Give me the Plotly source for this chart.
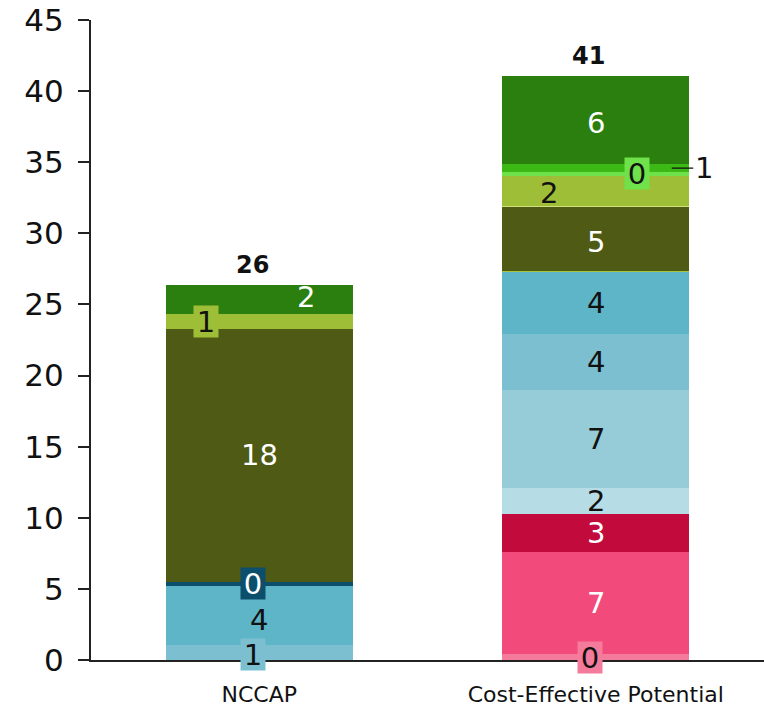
import plotly.graph_objects as go

categories = ["NCCAP", "Cost-Effective Potential"]

series_names = [
    "S01", "S02", "S03", "S04", "S05", "S06", "S07", "S08",
    "S09", "S10", "S11", "S12", "S13", "S14", "S15",
]
# values per series: [NCCAP, Cost-Effective Potential]
v01 = [0.0, 0.42]
v02 = [0.0, 7.18]
v03 = [0.0, 2.67]
v04 = [0.0, 1.83]
v05 = [0.0, 6.89]
v06 = [1.05, 3.94]
v07 = [4.15, 4.36]
v08 = [0.30, 0.0]
v09 = [0.0, 0.07]
v10 = [17.8, 4.53]
v11 = [0.0, 0.06]
v12 = [1.0, 2.08]
v13 = [0.0, 0.28]
v14 = [0.0, 0.56]
v15 = [2.1, 6.20]
values = [v01, v02, v03, v04, v05, v06, v07, v08, v09, v10, v11, v12, v13, v14, v15]

totals = [26, 41]
y_ticks = [0, 5, 10, 15, 20, 25, 30, 35, 40, 45]

# ---- styles ----
colors = [
    "#f57b9c", "#f24b7b", "#c20b3c", "#b6dde6", "#96ccd8", "#7cbfd0", "#5eb5c8",
    "#0b4f6c", "#a8c43a", "#4f5a14", "#cfe07a", "#9fbe37", "#6fe14b", "#3cb914", "#2a7f0f",
]
text_colors = [
    "#111111", "white", "white", "#111111", "#111111", "#111111", "#111111",
    "white", "#111111", "white", "#111111", "#111111", "#111111", "#111111", "white",
]
show_label = [True, True, True, True, True, True, True, True, False, True, False, True, True, True, True]
# (series index, category index) -> style for label
label_style = {
    (5, 0): dict(box=True, xshift=-6, yshift=-2),
    (6, 0): dict(yshift=-4),
    (7, 0): dict(box=True, xshift=-6),
    (11, 0): dict(box=True, xshift=-53),
    (14, 0): dict(xshift=47, yshift=2),
    (0, 1): dict(box=True, xshift=-6),
    (9, 1): dict(yshift=-3),
    (11, 1): dict(xshift=-47, yshift=-2),
    (12, 1): dict(box=True, xshift=41, yshift=1),
    (13, 1): dict(arrow=True),
    (14, 1): dict(yshift=-3),
}

FONT = "DejaVu Sans"

fig = go.Figure()
for name, vals, col in zip(series_names, values, colors):
    fig.add_trace(go.Bar(
        x=categories, y=vals, name=name, marker=dict(color=col, line=dict(width=0)),
        hoverinfo="x+y+name",
    ))

annotations = []
base = [0.0, 0.0]
for i, vals in enumerate(values):
    for j, v in enumerate(vals):
        if v > 0 and show_label[i]:
            st = label_style.get((i, j), {})
            mid = base[j] + v / 2
            ann = dict(
                x=categories[j], y=mid, xref="x", yref="y",
                text=str(int(v + 0.5)),
                font=dict(family=FONT, size=29, color=text_colors[i]),
                showarrow=False,
                xshift=st.get("xshift", 0), yshift=st.get("yshift", 0),
            )
            if st.get("box"):
                ann.update(bgcolor=colors[i], borderpad=0, width=24, height=31)
            if st.get("arrow"):
                ann.update(showarrow=True, arrowhead=0, arrowwidth=1.2, arrowcolor="#111111",
                           xshift=76, ax=32, ay=0, standoff=0,
                           font=dict(family=FONT, size=29, color="#111111"))
            annotations.append(ann)
        base[j] += v

for j, t in enumerate(totals):
    annotations.append(dict(
        x=categories[j], y=base[j], xref="x", yref="y", text="<b>%d</b>" % t,
        font=dict(family=FONT, size=24, color="#111111"), showarrow=False,
        yshift=20, xshift=-7,
    ))

fig.update_layout(
    barmode="stack",
    bargap=0.444,
    width=764, height=706,
    margin=dict(l=91, r=0, t=20, b=46),
    plot_bgcolor="white", paper_bgcolor="white",
    showlegend=False,
    annotations=annotations,
    font=dict(family=FONT, color="#111111"),
)
fig.update_xaxes(
    showline=True, linecolor="#222222", linewidth=2, ticks="",
    tickfont=dict(family=FONT, size=22, color="#111111"),
    ticklabelstandoff=14,
    showgrid=False,
)
fig.update_yaxes(
    range=[0, 45], tickvals=y_ticks, showline=True, linecolor="#222222", linewidth=2,
    ticks="outside", ticklen=11, tickwidth=2, tickcolor="#222222",
    tickfont=dict(family=FONT, size=31, color="#111111"),
    ticklabelstandoff=8,
    showgrid=False, zeroline=False,
)

fig.write_html("out.html")
